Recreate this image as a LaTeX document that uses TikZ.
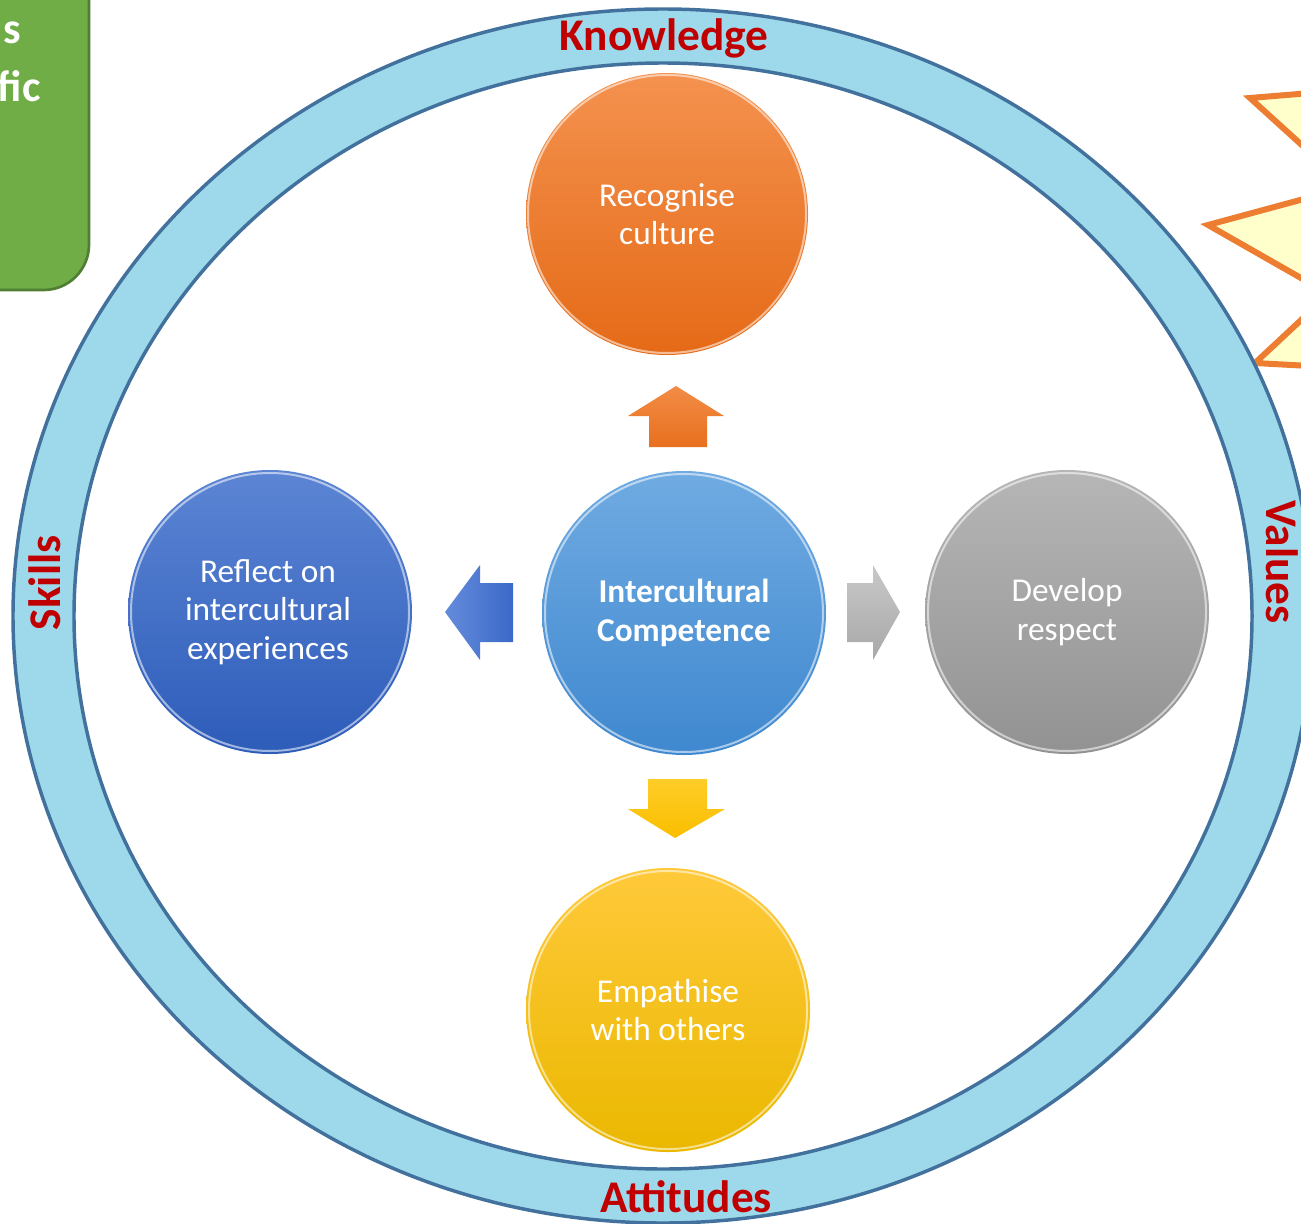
\documentclass[tikz,border=0pt]{standalone}
\usepackage{fontspec}
\setmainfont{Carlito}
\begin{document}
\begin{tikzpicture}[x=0.75pt,y=-0.75pt,
  ringedge/.style={draw=ringdark,line width=2.6pt},
  bubble/.style={circle,minimum size=211.5pt,inner sep=0pt,text=white,
     align=center,font=\fontsize{25}{29}\selectfont},
  label/.style={text=labelred,font=\fontsize{34}{40}\selectfont\bfseries},
  notetext/.style={anchor=base east,text=white,inner sep=0pt,
     font=\fontsize{33}{38}\selectfont\bfseries},
  rim/.style={draw=white,opacity=0.55,line width=1.5pt}]
\definecolor{ringblue}{HTML}{9DD9EA}
\definecolor{ringdark}{HTML}{41719C}
\definecolor{labelred}{HTML}{C00000}
\definecolor{greenbox}{HTML}{70AD47}
\definecolor{greenedge}{HTML}{507E32}
\definecolor{starfill}{HTML}{FFFFCC}
\definecolor{staredge}{HTML}{ED7D31}
\useasboundingbox (0,0) rectangle (1301,1223);
\clip (0,0) rectangle (1301,1223);

% green note box, mostly off the left edge
\draw[fill=greenbox,draw=greenedge,line width=2pt,rounded corners=34pt]
  (-80,-60) rectangle (89,290);
\node[notetext] (gs) at (21,44) {s};
\node[notetext] (gfic) at (41,102) {fic};

% star burst on the right edge
\draw[fill=starfill,draw=staredge,line width=4.5pt,line join=miter]
  (1420,84) -- (1250,98) -- (1348,187) -- (1208,225) -- (1329,294)
  -- (1255,363) -- (1420,372) -- cycle;

% outer ring
\fill[ringblue,even odd rule]
  (663,616) ellipse [x radius=650*0.75pt, y radius=607*0.75pt]
  (663,616) ellipse [x radius=589*0.75pt, y radius=553*0.75pt];
\draw[ringedge] (663,616) ellipse [x radius=650*0.75pt, y radius=607*0.75pt];
\draw[ringedge] (663,616) ellipse [x radius=589*0.75pt, y radius=553*0.75pt];

% ring labels
\node[label] (know) at (664,38) {Knowledge};
\node[label] (att) at (686,1197) {Attitudes};
\node[label,rotate=90] (skills) at (45,583) {Skills};
\node[label,rotate=-90] (values) at (1282,562) {Values};

% bubble discs
\shade[top color={rgb,255:red,244;green,146;blue,79},bottom color={rgb,255:red,229;green,106;blue,23}]
  (667,214) circle (141);
\shade[top color={rgb,255:red,112;green,171;blue,226},bottom color={rgb,255:red,63;green,136;blue,207}]
  (684,613) circle (142);
\shade[top color={rgb,255:red,92;green,133;blue,212},bottom color={rgb,255:red,45;green,92;blue,185}]
  (270,612) circle (142);
\shade[top color={rgb,255:red,182;green,182;blue,182},bottom color={rgb,255:red,146;green,146;blue,146}]
  (1067,612) circle (142);
\shade[top color={rgb,255:red,255;green,201;blue,58},bottom color={rgb,255:red,234;green,184;blue,0}]
  (668,1010) circle (142);

% glossy rims
\foreach \cx/\cy in {667/214,684/613,270/612,1067/612,668/1010}{
  \draw[rim] (\cx,\cy) circle (139);
}

% bubble texts
\node[bubble] (rec) at (667,214) {Recognise\\culture};
\node[bubble,font=\fontsize{25}{29}\selectfont\bfseries] (ic) at (684,613) {Intercultural\\Competence};
\node[bubble] (refl) at (268,612) {Reflect on\\intercultural\\experiences};
\node[bubble] (resp) at (1067,612) {Develop\\respect};
\node[bubble] (emp) at (668,1010) {Empathise\\with others};

% block arrows from the centre bubble
\shade[top color={rgb,255:red,242;green,140;blue,70},bottom color={rgb,255:red,232;green,112;blue,30}]
  (649,447) -- (649,416) -- (628,416) -- (676,386) -- (724,416) -- (707,416) -- (707,447) -- cycle;
\shade[left color={rgb,255:red,100;green,140;blue,220},right color={rgb,255:red,60;green,105;blue,200}]
  (513,583) -- (480,583) -- (480,565) -- (445,612) -- (480,660) -- (480,642) -- (513,642) -- cycle;
\shade[top color={rgb,255:red,200;green,200;blue,200},bottom color={rgb,255:red,168;green,168;blue,168}]
  (847,583) -- (873,583) -- (873,565) -- (900,612) -- (873,660) -- (873,642) -- (847,642) -- cycle;
\shade[top color={rgb,255:red,255;green,205;blue,40},bottom color={rgb,255:red,250;green,190;blue,0}]
  (648,779) -- (707,779) -- (707,809) -- (725,809) -- (675,838) -- (628,809) -- (648,809) -- cycle;
\end{tikzpicture}
\end{document}
